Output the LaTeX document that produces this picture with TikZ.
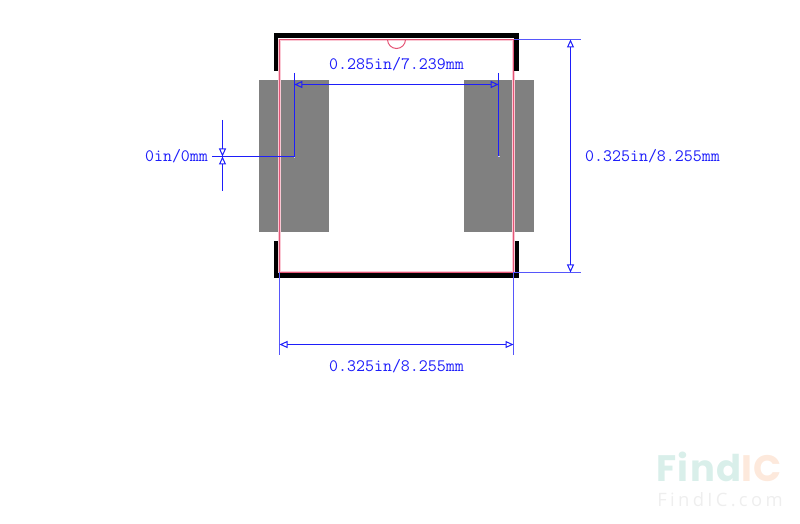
\documentclass[tikz,border=0pt]{standalone}
\usepackage{fontspec}
\usetikzlibrary{arrows.meta}
\setmonofont{Latin Modern Mono}
\newfontfamily\wmbold[LetterSpace=4]{Poppins Bold}
\newfontfamily\wmthin[LetterSpace=18]{Open Sans}
\definecolor{dimblue}{RGB}{30,30,250}
\definecolor{outlinered}{RGB}{228,85,118}
\definecolor{outlinepink}{RGB}{250,200,212}
\definecolor{padgrey}{RGB}{128,128,128}
\definecolor{wmteal}{RGB}{217,239,234}
\definecolor{wmorange}{RGB}{253,233,220}
\definecolor{wmgrey}{RGB}{238,238,238}
\tikzset{
  x=1bp,y=-1bp,
  padbox/.style={fill=padgrey,draw=none},
  outlinehalo/.style={draw=outlinepink,line width=2.2bp},
  outline/.style={draw=outlinered,line width=1.2bp},
  silk/.style={draw=black,line width=4.2bp,line cap=butt,line join=miter},
  dimline/.style={draw=dimblue,line width=1.2bp},
  extline/.style={draw=dimblue!75,line width=1.2bp},
  dimarrow/.style={draw=dimblue,line width=1bp,{Triangle[open,length=8bp,width=7bp]}-{Triangle[open,length=8bp,width=7bp]}},
  dimtext/.style={text=dimblue,font=\ttfamily\fontsize{17.5}{17.5}\selectfont,inner sep=0pt},
  spot/.style={fill=white!75!dimblue,draw=none,minimum size=1.6bp,inner sep=0pt,rectangle},
}
\begin{document}
\begin{tikzpicture}
\useasboundingbox (0,0) rectangle (800,524);
% pads
\path[padbox] (259.3,80) rectangle (329,232);
\path[padbox] (464,80) rectangle (533.5,232);
% package outline
\draw[outlinehalo] (279.5,39.7) rectangle (513.5,272.3);
\draw[outline] (279.5,39.7) rectangle (513.5,272.3);
\draw[outline,line width=1bp] (387.5,39.5) arc[start angle=180,end angle=0,radius=9];
% silkscreen corners
\draw[silk] (276,71) -- (276,35.6) -- (516.5,35.6) -- (516.5,71);
\draw[silk] (276,241) -- (276,275.5) -- (517,275.5) -- (517,241);
% named points
\coordinate (padL) at (294.3,156.5);
\coordinate (padR) at (498.7,156.5);
\coordinate (padLtop) at (294.3,73);
\coordinate (padRtop) at (498.7,73);
\coordinate (wA) at (294.3,84.5);
\coordinate (wB) at (498.7,84.5);
\coordinate (leadL) at (212,156.5);
\coordinate (zTop) at (222.5,120);
\coordinate (zBot) at (222.5,191);
\coordinate (zMid) at (222.5,156.5);
\coordinate (rT0) at (514,39.5);
\coordinate (rT1) at (581,39.5);
\coordinate (rB0) at (514,272.5);
\coordinate (rB1) at (581,272.5);
\coordinate (rA) at (570.5,39.5);
\coordinate (rB) at (570.5,272.5);
\coordinate (bL0) at (279.5,272);
\coordinate (bL1) at (279.5,355);
\coordinate (bR0) at (513.5,272);
\coordinate (bR1) at (513.5,355);
\coordinate (bA) at (279.5,344.5);
\coordinate (bB) at (513.5,344.5);
% pitch dimension
\draw[dimline] (padLtop) -- (padL) -- (leadL);
\draw[dimline] (padRtop) -- (padR);
\draw[dimarrow] (wA) -- (wB);
\node[spot] (dotL) at (294.3,157.5) {};
\node[spot] (dotR) at (498.7,156.5) {};
\node[dimtext] (tPitch) at (396.5,64) {0.285in/7.239mm};
% zero offset dimension
\draw[dimline,line width=1bp,-{Triangle[open,length=8bp,width=7bp]}] (zTop) -- (zMid);
\draw[dimline,line width=1bp,-{Triangle[open,length=8bp,width=7bp]}] (zBot) -- (zMid);
\node[dimtext] (tZero) at (176.5,156) {0in/0mm};
% height dimension
\draw[extline] (rT0) -- (rT1);
\draw[extline] (rB0) -- (rB1);
\draw[dimarrow] (rA) -- (rB);
\node[dimtext] (tHeight) at (652.5,156) {0.325in/8.255mm};
% width dimension
\draw[extline] (bL0) -- (bL1);
\draw[extline] (bR0) -- (bR1);
\draw[dimarrow] (bA) -- (bB);
\node[dimtext] (tWidth) at (396.5,366) {0.325in/8.255mm};
% watermark
\node[inner sep=0pt,anchor=center,font=\wmbold\fontsize{37}{37}\selectfont] (wm1) at (719,467) {\textcolor{wmteal}{Find}\textcolor{wmorange}{IC}};
\node[inner sep=0pt,anchor=center,text=wmgrey,font=\wmthin\fontsize{18.5}{18.5}\selectfont] (wm2) at (720,499.5) {FindIC.com};
\end{tikzpicture}
\end{document}
